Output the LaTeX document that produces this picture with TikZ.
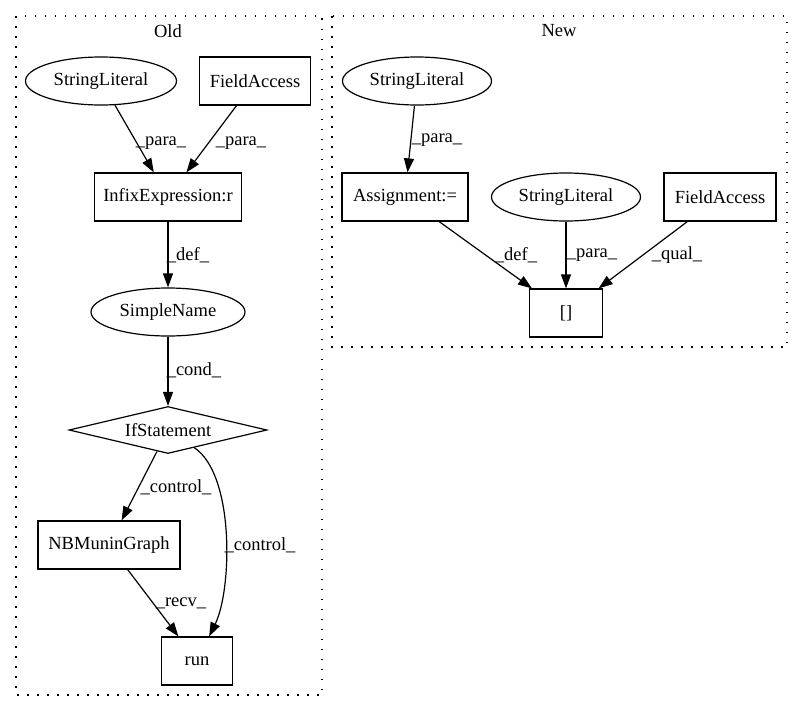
\documentclass[tikz,border=0pt]{standalone}
\usepackage{fontspec}
\setmainfont{Liberation Serif}
\usetikzlibrary{shapes.geometric,arrows.meta}
\begin{document}
\begin{tikzpicture}[x=1pt,y=-1pt,
  every node/.style={font=\fontsize{18.5}{22}\selectfont, inner sep=0pt},
  box/.style={draw, line width=1.2pt, rectangle, minimum height=48pt},
  ell/.style={draw, line width=1.2pt, ellipse, minimum width=151pt, minimum height=48pt},
  dia/.style={draw, line width=1.2pt, diamond, aspect=4.2, minimum width=198pt, minimum height=47pt},
  edge/.style={line width=1.2pt, -{Triangle[length=14pt,width=10pt]}},
  lbl/.style={},
  clus/.style={draw, line width=1.2pt, dash pattern=on 1.5pt off 8.5pt}]
\useasboundingbox (0,0) rectangle (803,712);
% clusters
\draw[clus] (16,16) rectangle (322,695);
\draw[clus] (332,16) rectangle (787,347);
\node (oldlbl) at (168,31) {Old};
\node (newlbl) at (559,31) {New};
% Old nodes
\node[ell] (sl1) at (101,81) {StringLiteral};
\node[box, minimum width=111pt] (fa1) at (255,81) {FieldAccess};
\node[box, minimum width=147pt] (infix) at (168,197) {InfixExpression:r};
\node[ell, minimum width=154pt] (sn) at (168,312) {SimpleName};
\node[dia] (if) at (168,430) {IfStatement};
\node[box, minimum width=142pt] (nb) at (109,545) {NBMuninGraph};
\node[box, minimum width=71pt] (run) at (197,661) {run};
% New nodes
\node[ell, minimum width=149pt] (sl2) at (417,81) {StringLiteral};
\node[box, minimum width=126pt] (asg) at (405,197) {Assignment:=};
\node[ell, minimum width=149pt] (sl3) at (566,197) {StringLiteral};
\node[box, minimum width=112pt] (fa2) at (720,197) {FieldAccess};
\node[box, minimum width=73pt] (br) at (566,313) {[]};
% Old edges
\draw[edge] (sl1) -- (infix);
\draw[edge] (fa1) -- (infix);
\draw[edge] (infix) -- (sn);
\draw[edge] (sn) -- (if);
\draw[edge] (if) -- (nb);
\draw[edge] (nb) -- (run);
\draw[edge] (if) .. controls (235,475) and (232,590) .. (run);
% New edges
\draw[edge] (sl2) -- (asg);
\draw[edge] (asg) -- (br);
\draw[edge] (sl3) -- (br);
\draw[edge] (fa2) -- (br);
% labels
\node[lbl] (l1) at (161,143) {\_para\_};
\node[lbl] (l2) at (241,143) {\_para\_};
\node[lbl] (l3) at (188,255) {\_def\_};
\node[lbl] (l4) at (194,370) {\_cond\_};
\node[lbl] (l5) at (176,487) {\_control\_};
\node[lbl] (l6) at (260,545) {\_control\_};
\node[lbl] (l7) at (181,603) {\_recv\_};
\node[lbl] (l8) at (437,140) {\_para\_};
\node[lbl] (l9) at (516,255) {\_def\_};
\node[lbl] (l10) at (592,255) {\_para\_};
\node[lbl] (l11) at (677,255) {\_qual\_};
\end{tikzpicture}
\end{document}
